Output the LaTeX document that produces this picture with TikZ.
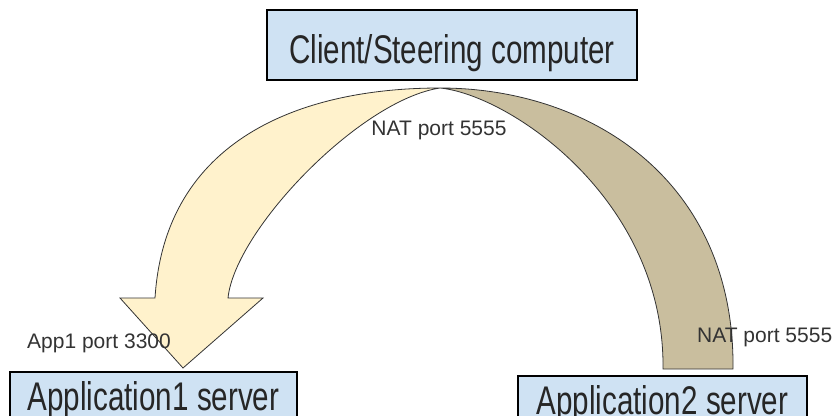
\documentclass[tikz,border=0pt]{standalone}
\usepackage{fontspec}
\usetikzlibrary{shadows}
\setmainfont{Liberation Sans}
\newfontfamily\widefont[FakeStretch=0.74]{Liberation Sans}
\definecolor{boxblue}{HTML}{CFE2F3}
\definecolor{appyellow}{HTML}{FFF2CC}
\definecolor{natkhaki}{HTML}{C9BE9E}

\begin{document}
\begin{tikzpicture}[
  x=1pt, y=-1pt,
  hostbox/.style={draw=black, line width=1.6pt, fill=boxblue, inner sep=0pt,
    drop shadow={shadow xshift=1.2pt, shadow yshift=-1.2pt, opacity=0.45},
    text depth=0pt, text=black!85, font=\widefont\fontsize{40}{48}\selectfont},
  portlabel/.style={inner sep=0pt, text=black!80, font=\fontsize{21}{25}\selectfont},
  flow/.style={draw=black!80, line width=0.8pt, line join=miter}
]
\useasboundingbox (0,0) rectangle (834,415);
\clip (0,0) rectangle (834,415);

\coordinate (apex) at (440,88);
\draw[flow, fill=natkhaki] (apex) .. controls (590,88) and (735,180) .. (733,369)
  -- (663,369) .. controls (665,200) and (510,95) .. (apex) -- cycle;
\draw[flow, fill=appyellow] (apex) .. controls (300,88) and (165,140) .. (155,298)
  -- (120,298) -- (183,368) -- (263,298) -- (228,298)
  .. controls (235,230) and (360,100) .. (apex) -- cycle;

\node[portlabel, anchor=base] (natclient) at (439,135) {NAT port 5555};
\node[portlabel, anchor=base west] (app1port) at (27,348) {App1 port 3300};
\node[portlabel, anchor=base west] (natapp2) at (697,342) {NAT port 5555};

\node[hostbox, minimum width=370pt, minimum height=70pt, text height=36pt]
  (client) at (452,45) {Client/Steering computer};
\node[hostbox, minimum width=287pt, minimum height=52pt, text height=24pt]
  (app1) at (153.5,398) {Application1 server};
\node[hostbox, minimum width=289pt, minimum height=52pt, text height=24pt]
  (app2) at (662.5,402) {Application2 server};
\end{tikzpicture}
\end{document}
